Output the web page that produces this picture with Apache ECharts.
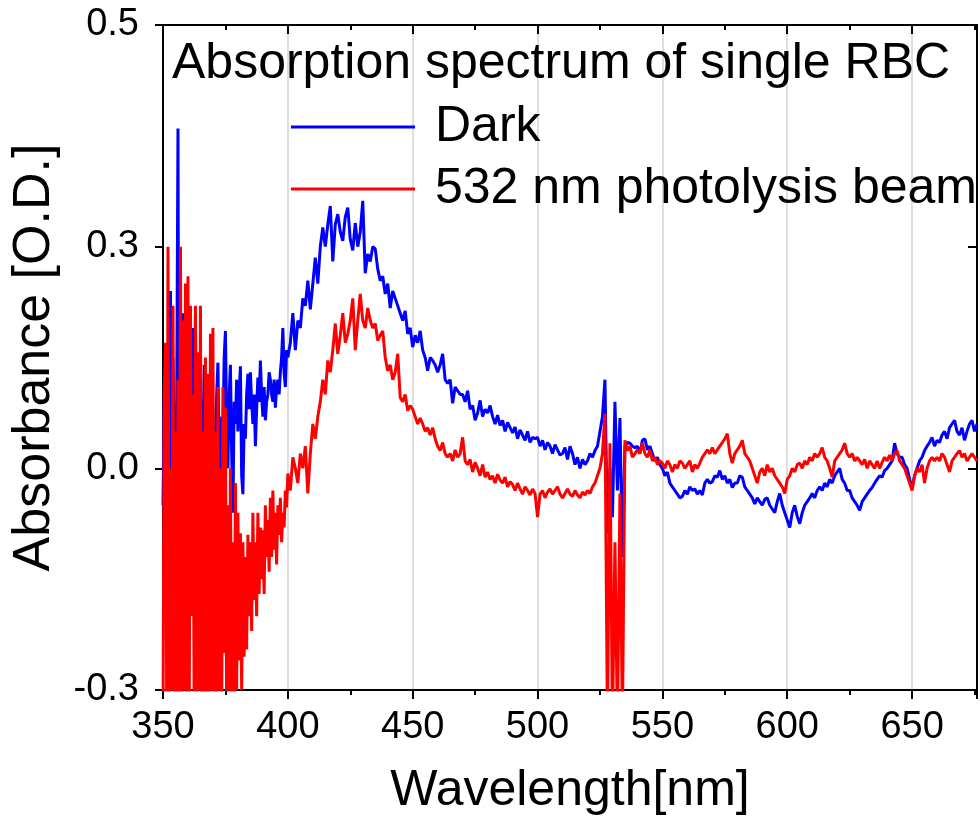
<!DOCTYPE html>
<html>
<head>
<meta charset="utf-8">
<script src="https://cdn.jsdelivr.net/npm/echarts@6/dist/echarts.min.js"></script>
<style>html,body{margin:0;padding:0;background:#fff}#c{width:980px;height:826px}</style>
</head>
<body>
<div id="c"></div>
<script>
// Sampling: 350–399.5 nm every 0.5 nm (noisy UV edge), 400–676 nm every 1 nm
const fineStartNm = 350, fineStepNm = 0.5;
const coarseStartNm = 400, coarseStepNm = 1;

const seriesNames = ['Dark', '532 nm photolysis beam'];
const chartTitle = 'Absorption spectrum of single RBC';
const yTickLabels = ['-0.3', '0.0', '0.3', '0.5'];

// Dark, 350..399.5 nm (0.5 nm steps)
const darkFine = [
  -0.05, 0.1, 0.02, -0.2, -0.1, 0.05, 0.24, -0.15, 0.15, 0.0,
  -0.15, 0.1, 0.46, -0.25, -0.1, 0.05, 0.21, -0.05, 0.0, 0.15,
  -0.12, 0.05, 0.08, -0.1, 0.19, -0.02, 0.21, -0.06, -0.08, 0.1,
  0.12, -0.1, 0.02, 0.14, -0.1, 0.05, 0.1, -0.12, -0.05, 0.12,
  0.08, -0.04, -0.02, 0.1, 0.143, 0.0, -0.118, 0.07, 0.05, 0.15,
  0.186, 0.06, 0.0, 0.1, 0.14, 0.02, -0.06, 0.09, 0.06, 0.12,
  0.05, 0.1, 0.138, -0.01, -0.035, 0.06, 0.04, 0.1, 0.128, 0.08,
  0.13, 0.09, 0.06, 0.1, 0.03, 0.08, 0.123, 0.09, 0.146, 0.1,
  0.07, 0.11, 0.065, 0.09, 0.1, 0.13, 0.12, 0.1, 0.09, 0.12,
  0.082, 0.11, 0.12, 0.1, 0.13, 0.15, 0.19, 0.13, 0.11, 0.16
];

// Dark, 400..676 nm (1 nm steps)
const darkCoarse = [
  0.15, 0.17, 0.21, 0.16, 0.2, 0.19, 0.23, 0.22, 0.254, 0.215,
  0.25, 0.285, 0.25, 0.3, 0.326, 0.3, 0.33, 0.355, 0.28, 0.33,
  0.344, 0.32, 0.308, 0.34, 0.353, 0.31, 0.295, 0.332, 0.3, 0.32,
  0.362, 0.264, 0.29, 0.28, 0.3, 0.297, 0.27, 0.254, 0.26, 0.236,
  0.25, 0.217, 0.24, 0.23, 0.22, 0.21, 0.2, 0.213, 0.182, 0.19,
  0.164, 0.18, 0.17, 0.186, 0.16, 0.15, 0.132, 0.15, 0.146, 0.14,
  0.13, 0.14, 0.155, 0.12, 0.115, 0.12, 0.088, 0.11, 0.105, 0.1,
  0.1, 0.09, 0.105, 0.08, 0.085, 0.065, 0.075, 0.092, 0.07, 0.08,
  0.075, 0.085, 0.07, 0.06, 0.072, 0.058, 0.065, 0.05, 0.062, 0.055,
  0.048, 0.056, 0.04, 0.052, 0.045, 0.038, 0.05, 0.035, 0.042, 0.04,
  0.042, 0.03, 0.038, 0.025, 0.035, 0.03, 0.02, 0.032, 0.025, 0.018,
  0.02, 0.028, 0.012, 0.03, 0.02, 0.005, 0.015, 0.0, 0.012, 0.005,
  0.01, 0.02, 0.015, 0.024, 0.03, 0.05, 0.07, 0.12, -0.088, 0.0,
  -0.066, 0.09, -0.03, 0.068, -0.12, 0.03, 0.035, 0.034, 0.03, 0.028,
  0.03, 0.02, 0.038, 0.04, 0.025, 0.03, 0.02, 0.01, 0.015, 0.005,
  0.0, -0.01, -0.005, -0.02, -0.025, -0.03, -0.035, -0.04, -0.038, -0.03,
  -0.035, -0.025, -0.03, -0.028, -0.035, -0.03, -0.036, -0.02, -0.015, -0.02,
  -0.018, -0.01, -0.012, -0.003, -0.015, -0.01, -0.02, -0.015, -0.026, -0.02,
  -0.02, -0.01, -0.012, -0.025, -0.03, -0.035, -0.04, -0.048, -0.04, -0.045,
  -0.05, -0.042, -0.04, -0.05, -0.055, -0.06, -0.045, -0.034, -0.05, -0.06,
  -0.07, -0.08, -0.06, -0.05, -0.065, -0.075, -0.06, -0.05, -0.045, -0.04,
  -0.034, -0.04, -0.03, -0.025, -0.03, -0.02, -0.025, -0.015, -0.02, -0.01,
  -0.005, 0.0, -0.015, -0.02, -0.03, -0.03, -0.04, -0.045, -0.05, -0.057,
  -0.045, -0.04, -0.035, -0.03, -0.026, -0.02, -0.015, -0.01, -0.012, -0.003,
  0.0, 0.005, 0.01, 0.034, 0.02, 0.015, 0.015, 0.005, 0.0, -0.015,
  -0.026, -0.01, 0.0, 0.01, 0.015, 0.024, 0.03, 0.035, 0.042, 0.03,
  0.038, 0.035, 0.045, 0.05, 0.04, 0.055, 0.06, 0.065, 0.05, 0.045,
  0.055, 0.038, 0.05, 0.06, 0.065, 0.05, 0.06
];

// 532 nm photolysis beam, 350..399.5 nm (0.5 nm steps)
const photolysisFine = [
  -0.35, 0.1, 0.17, -0.35, 0.3, -0.35, 0.0, -0.3, 0.22, -0.35,
  0.05, -0.35, 0.12, -0.35, 0.3, -0.35, 0.2, -0.3, 0.25, -0.35,
  0.26, -0.35, 0.22, -0.2, 0.1, -0.35, 0.22, -0.35, 0.157, -0.3,
  0.22, -0.35, 0.05, -0.35, 0.15, -0.35, 0.128, -0.35, 0.182, -0.3,
  0.19, -0.35, 0.05, -0.35, 0.11, -0.3, 0.0, -0.35, 0.11, -0.25,
  0.082, -0.35, -0.05, -0.3, 0.0, -0.35, -0.1, -0.35, -0.02, -0.3,
  -0.06, -0.26, -0.088, -0.3, -0.1, -0.255, -0.12, -0.245, -0.09, -0.2,
  -0.1, -0.22, -0.06, -0.178, -0.1, -0.2, -0.06, -0.17, -0.08, -0.15,
  -0.084, -0.17, -0.05, -0.12, -0.07, -0.14, -0.04, -0.12, -0.03, -0.11,
  -0.06, -0.13, -0.05, -0.09, -0.04, -0.1, -0.06, -0.08, -0.03, -0.053
];

// 532 nm photolysis beam, 400..676 nm (1 nm steps)
const photolysisCoarse = [
  -0.007, -0.03, 0.015, 0.0, -0.02, 0.02, 0.0, 0.03, -0.034, 0.02,
  0.06, 0.04, 0.07, 0.09, 0.12, 0.1, 0.146, 0.13, 0.16, 0.196,
  0.155, 0.18, 0.21, 0.17, 0.182, 0.2, 0.23, 0.16, 0.2, 0.236,
  0.2, 0.19, 0.217, 0.2, 0.19, 0.196, 0.173, 0.18, 0.186, 0.15,
  0.132, 0.14, 0.12, 0.13, 0.155, 0.096, 0.09, 0.1, 0.078, 0.085,
  0.08, 0.07, 0.06, 0.068, 0.06, 0.05, 0.055, 0.045, 0.055, 0.04,
  0.03, 0.024, 0.035, 0.02, 0.015, 0.02, 0.01, 0.025, 0.015, 0.02,
  0.042, 0.01, 0.005, 0.012, -0.005, 0.008, 0.0, -0.01, 0.005, -0.012,
  -0.005, -0.015, -0.01, -0.02, -0.008, -0.016, -0.02, -0.012, -0.025, -0.018,
  -0.022, -0.03, -0.02, -0.028, -0.035, -0.025, -0.03, -0.036, -0.028, -0.034,
  -0.066, -0.035, -0.03, -0.04, -0.032, -0.028, -0.035, -0.03, -0.025, -0.035,
  -0.04, -0.034, -0.028, -0.035, -0.038, -0.03, -0.036, -0.04, -0.032, -0.036,
  -0.03, -0.034, -0.025, -0.02, -0.01, 0.0, 0.02, 0.074, -0.35, 0.034,
  -0.35, -0.1, -0.35, -0.034, -0.35, 0.038, 0.024, 0.03, 0.015, 0.02,
  0.025, 0.02, 0.034, 0.02, 0.015, 0.025, 0.01, 0.015, 0.005, 0.01,
  0.007, 0.0, 0.01, 0.005, -0.005, 0.005, 0.0, 0.01, 0.007, 0.0,
  0.005, 0.01, -0.005, 0.005, 0.0, 0.007, 0.015, 0.02, 0.025, 0.02,
  0.028, 0.02, 0.025, 0.03, 0.035, 0.04, 0.047, 0.02, 0.007, 0.02,
  0.025, 0.03, 0.038, 0.02, 0.015, 0.01, 0.0, -0.01, -0.02, -0.005,
  0.0, -0.01, 0.005, -0.005, 0.0, -0.01, -0.015, -0.02, -0.025, -0.034,
  -0.015, -0.01, 0.0, -0.005, 0.005, 0.007, 0.0, 0.01, 0.005, 0.015,
  0.01, 0.02, 0.015, 0.02, 0.028, 0.015, 0.01, 0.0, -0.012, 0.01,
  0.015, 0.02, 0.025, 0.034, 0.02, 0.015, 0.02, 0.01, 0.015, 0.01,
  0.005, 0.012, 0.0, 0.01, 0.005, 0.0, 0.01, 0.0, 0.008, 0.015,
  0.01, 0.018, 0.01, 0.02, 0.024, 0.01, 0.005, 0.0, -0.01, -0.02,
  -0.03, -0.01, 0.0, -0.005, 0.005, -0.02, 0.0, 0.01, 0.015, 0.01,
  0.015, 0.01, 0.02, 0.015, 0.005, -0.005, 0.01, 0.015, 0.02, 0.024,
  0.015, 0.02, 0.01, 0.015, 0.02, 0.015, 0.01
];

const FONT = '"Liberation Sans", Arial, sans-serif';
const toPairs = (fine, coarse) =>
  fine.map((v, i) => [fineStartNm + i * fineStepNm, v])
    .concat(coarse.map((v, i) => [coarseStartNm + i * coarseStepNm, v]));

const chart = echarts.init(document.getElementById('c'), null, {renderer: 'canvas'});
const axisLineStyle = {color: '#000', width: 2};

chart.setOption({
  animation: false,
  backgroundColor: '#fff',
  title: {
    text: chartTitle,
    left: 172, top: 39, padding: 0,
    textStyle: {fontSize: 50, fontWeight: 'normal', fontFamily: FONT, color: '#000', lineHeight: 50}
  },
  legend: {
    orient: 'vertical', left: 291, top: 102, padding: 0,
    itemWidth: 124, itemHeight: 3, itemGap: 12, icon: 'rect',
    data: seriesNames,
    textStyle: {fontSize: 50, fontFamily: FONT, color: '#000', lineHeight: 50, padding: [0, 0, 0, 15]}
  },
  grid: {left: 163, right: 3, top: 25, bottom: 136, containLabel: false},
  xAxis: [{
    type: 'value', min: 350, max: 676, interval: 50, position: 'bottom',
    name: 'Wavelength[nm]', nameLocation: 'middle', nameGap: 76,
    nameTextStyle: {fontSize: 50, fontFamily: FONT, color: '#000'},
    axisLine: {show: true, onZero: false, lineStyle: axisLineStyle},
    axisTick: {show: true, inside: false, length: 9, lineStyle: axisLineStyle},
    minorTick: {show: true, splitNumber: 2, length: 5, lineStyle: axisLineStyle},
    axisLabel: {fontSize: 38, fontFamily: FONT, color: '#000', margin: 19,
      formatter: v => (v % 50 === 0 ? String(v) : '')},
    splitLine: {show: true, lineStyle: {color: '#d4d4d4', width: 1.5}}
  }, {
    type: 'value', min: 350, max: 676, interval: 50, position: 'top',
    axisLine: {show: true, onZero: false, lineStyle: axisLineStyle},
    axisTick: {show: true, inside: true, length: 9, lineStyle: axisLineStyle},
    minorTick: {show: true, splitNumber: 2, length: 5, lineStyle: axisLineStyle},
    axisLabel: {show: false},
    splitLine: {show: false}
  }],
  yAxis: [{
    type: 'value', min: -0.3, max: 0.6, interval: 0.3, position: 'left',
    name: 'Absorbance [O.D.]', nameLocation: 'middle', nameGap: 102, nameRotate: 90,
    nameTextStyle: {fontSize: 52, fontFamily: FONT, color: '#000'},
    axisLine: {show: true, onZero: false, lineStyle: axisLineStyle},
    axisTick: {show: true, inside: false, length: 8, lineStyle: axisLineStyle},
    axisLabel: {fontSize: 38, fontFamily: FONT, color: '#000', margin: 24,
      formatter: (v) => {
        const idx = Math.round((v + 0.3) / 0.3);
        return yTickLabels[idx] !== undefined ? yTickLabels[idx] : '';
      }},
    splitLine: {show: false}
  }, {
    type: 'value', min: -0.3, max: 0.6, interval: 0.3, position: 'right',
    axisLine: {show: true, onZero: false, lineStyle: axisLineStyle},
    axisTick: {show: true, inside: true, length: 9, lineStyle: axisLineStyle},
    axisLabel: {show: false},
    splitLine: {show: false}
  }],
  series: [{
    name: seriesNames[0], type: 'line', xAxisIndex: 0, yAxisIndex: 0,
    data: toPairs(darkFine, darkCoarse), showSymbol: false, symbol: 'none', clip: true,
    lineStyle: {color: '#0000ff', width: 3}, itemStyle: {color: '#0000ff'}
  }, {
    name: seriesNames[1], type: 'line', xAxisIndex: 0, yAxisIndex: 0,
    data: toPairs(photolysisFine, photolysisCoarse), showSymbol: false, symbol: 'none', clip: true,
    lineStyle: {color: '#ff0000', width: 3}, itemStyle: {color: '#ff0000'}
  }]
});
</script>
</body>
</html>
